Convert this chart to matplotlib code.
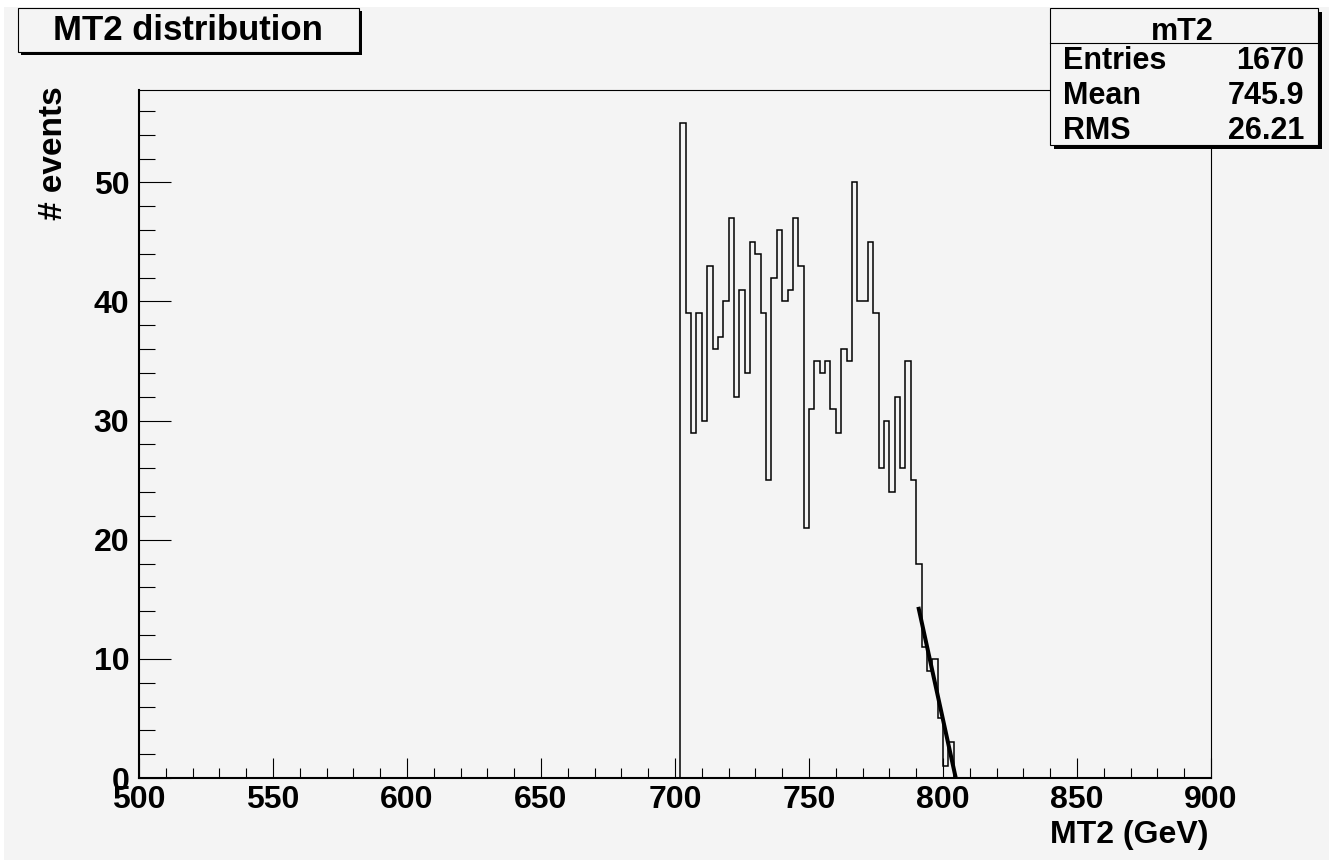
import numpy as np
import matplotlib
matplotlib.use('Agg')
import matplotlib.pyplot as plt
from matplotlib.patches import Rectangle
from matplotlib.ticker import MultipleLocator

plt.rcParams['font.family'] = ['Liberation Sans', 'DejaVu Sans']
plt.rcParams['font.weight'] = 'bold'

# MT2 histogram: 2 GeV bins, first filled bin starts at 702 GeV
bin_start = 702
bin_width = 2
counts = [55, 39, 29, 39, 30, 43, 36, 37, 40, 47,
          32, 41, 34, 45, 44, 39, 25, 42, 46, 40,
          41, 47, 43, 21, 31, 35, 34, 35, 31, 29,
          36, 35, 50, 40, 40, 45, 39, 26, 30, 24,
          32, 26, 35, 25, 18, 11, 9, 10, 5, 1, 3]

# straight-line fit on the falling edge: y = p0 + p1 * x
fit_range = [790.8, 804.8]
fit_p0 = 828.1
fit_p1 = -1.029

stats_title = 'mT2'
stats_labels = ['Entries', 'Mean', 'RMS']
stats_values = ['1670', '745.9', '26.21']

bg = '#f4f4f4'
W, H = 1329, 860
fig = plt.figure(figsize=(W / 100, H / 100), dpi=100, facecolor=bg)

ax = fig.add_axes([139 / W, 82 / H, 1072 / W, 688 / H])
ax.set_facecolor(bg)

edges = bin_start + bin_width * np.arange(len(counts) + 1)
ax.stairs(counts, edges, baseline=0, color='black', linewidth=1.1)

fx = np.array(fit_range)
ax.plot(fx, fit_p0 + fit_p1 * fx, color='black', linewidth=2.9, solid_capstyle='butt')

ax.set_xlim(500, 900)
ax.set_ylim(0, 57.75)
ax.xaxis.set_major_locator(MultipleLocator(50))
ax.xaxis.set_minor_locator(MultipleLocator(10))
ax.yaxis.set_major_locator(MultipleLocator(10))
ax.yaxis.set_minor_locator(MultipleLocator(2))
ax.tick_params(axis='x', which='major', direction='in', length=14.4, width=0.8,
               labelsize=23, pad=5)
ax.tick_params(axis='x', which='minor', direction='in', length=6.9, width=0.8)
ax.tick_params(axis='y', which='major', direction='in', length=23, width=0.8,
               labelsize=23, pad=7)
ax.tick_params(axis='y', which='minor', direction='in', length=11.5, width=0.8)
for lab in ax.get_xticklabels() + ax.get_yticklabels():
    lab.set_fontweight('bold')
ax.spines['left'].set_linewidth(1.5)
ax.spines['bottom'].set_linewidth(1.5)
ax.spines['top'].set_linewidth(0.8)
ax.spines['right'].set_linewidth(0.8)

# overlay in pixel coordinates for the ROOT-style boxes and axis titles
ov = fig.add_axes([0, 0, 1, 1], zorder=10)
ov.set_xlim(0, W)
ov.set_ylim(H, 0)
ov.axis('off')

ov.add_patch(Rectangle((0, 0), W, 7, facecolor='white', edgecolor='none'))
ov.add_patch(Rectangle((0, 0), 4, H, facecolor='white', edgecolor='none'))

# title box with shadow
ov.add_patch(Rectangle((21, 11), 341, 44, facecolor='black', edgecolor='none'))
ov.add_patch(Rectangle((18, 8), 341, 44, facecolor=bg, edgecolor='black', linewidth=0.8))
ov.text(188, 31, 'MT2 distribution', fontsize=25, fontweight='bold',
        ha='center', va='center')

# stats box with shadow
ov.add_patch(Rectangle((1054, 12), 268, 137, facecolor='black', edgecolor='none'))
ov.add_patch(Rectangle((1050, 8), 268, 137, facecolor=bg, edgecolor='black', linewidth=0.8))
ov.plot([1050, 1318], [43, 43], color='black', linewidth=0.8)
ov.text(1182, 32, stats_title, fontsize=22, fontweight='bold', ha='center', va='center')
for i, (lab, val) in enumerate(zip(stats_labels, stats_values)):
    y = 61 + 35 * i
    ov.text(1063, y, lab, fontsize=22, fontweight='bold', ha='left', va='center')
    ov.text(1304, y, val, fontsize=22, fontweight='bold', ha='right', va='center')

# axis titles
ov.text(1208, 843, 'MT2 (GeV)', fontsize=23, fontweight='bold', ha='right', va='baseline')
ov.text(54, 86, '# events', fontsize=24, fontweight='bold', rotation=90,
        ha='center', va='top')

fig.savefig('out.png', dpi=100, facecolor=fig.get_facecolor())
